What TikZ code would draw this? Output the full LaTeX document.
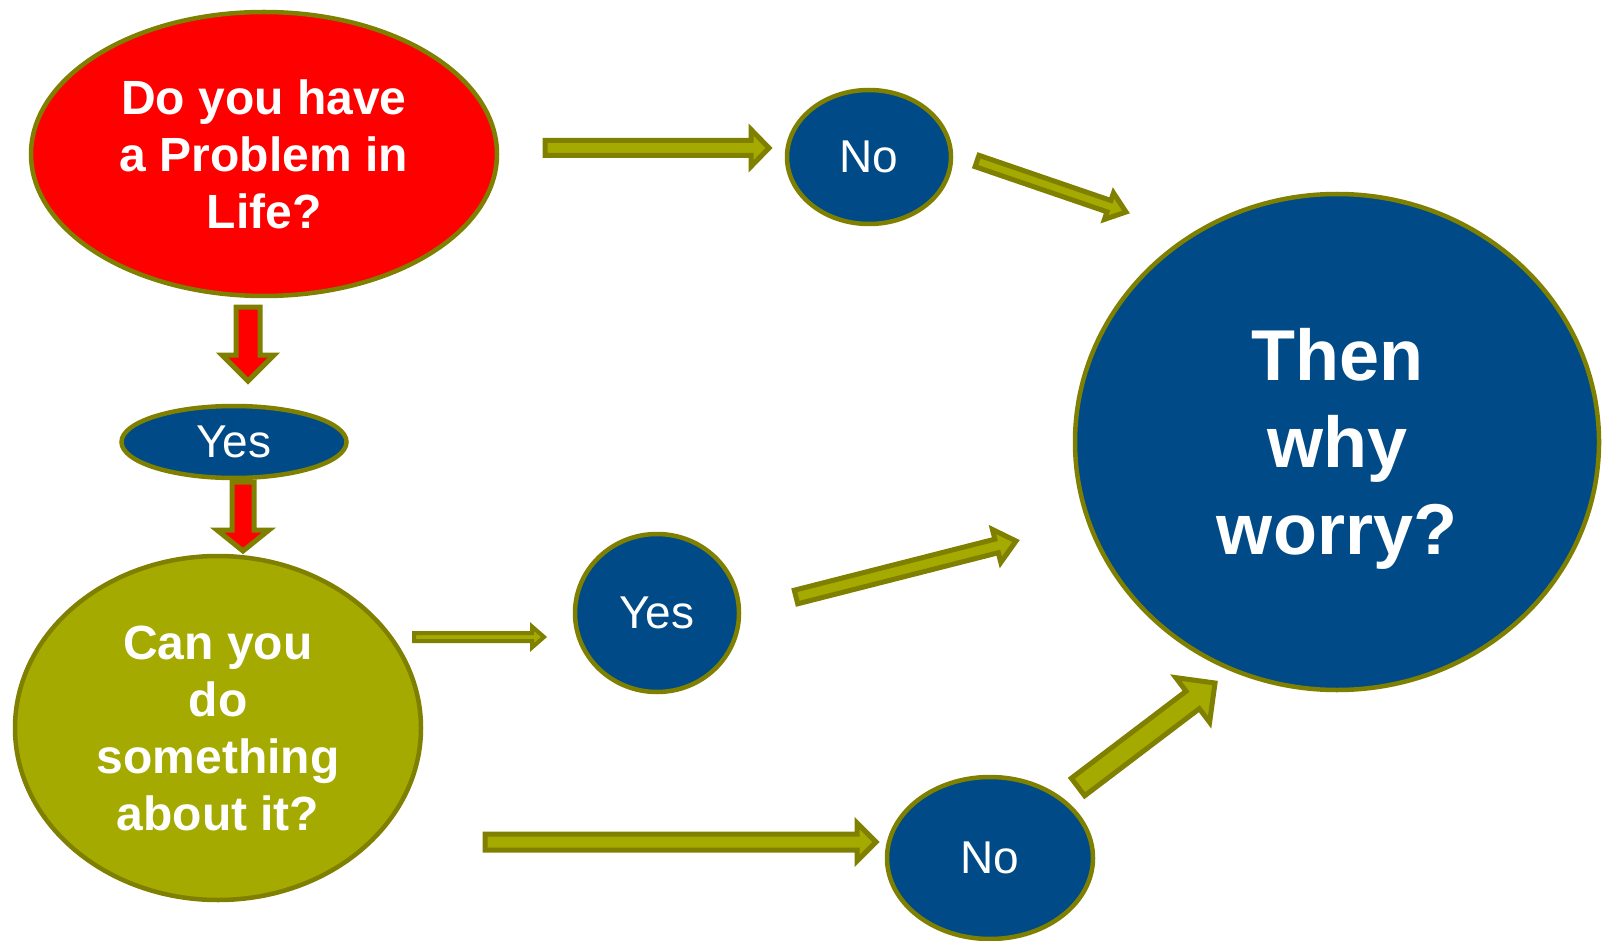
\documentclass[tikz,border=0pt]{standalone}
\usepackage{fontspec}
\setmainfont{Liberation Sans}
\usetikzlibrary{shapes.geometric,calc}
\definecolor{nblue}{HTML}{004B87}
\definecolor{oliveline}{HTML}{7F7F00}
\definecolor{olivefill}{HTML}{A4AA00}
\definecolor{pred}{HTML}{FF0000}
\newcommand\blockarrow[6]{%
  \path[#6] let \p1=(#1), \p2=(#2), \n1={atan2(\y2-\y1,\x2-\x1)}, \n2={veclen(\x2-\x1,\y2-\y1)} in
    ($(\p1)+(\n1+90:#3pt)$) -- ($(\p1)+(\n1:{\n2-#5pt})+(\n1+90:#3pt)$)
    -- ($(\p1)+(\n1:{\n2-#5pt})+(\n1+90:#4pt)$) -- (\p2)
    -- ($(\p1)+(\n1:{\n2-#5pt})+(\n1-90:#4pt)$) -- ($(\p1)+(\n1:{\n2-#5pt})+(\n1-90:#3pt)$)
    -- ($(\p1)+(\n1-90:#3pt)$) -- cycle;}
\tikzset{
  bubble/.style={ellipse, draw=oliveline, line width=4.5pt, inner sep=0pt, text=white, align=center},
  bigtxt/.style={font=\fontsize{48}{57}\selectfont\bfseries},
  hugetxt/.style={font=\fontsize{72}{87}\selectfont\bfseries, text=white, align=center},
  smalltxt/.style={font=\fontsize{46}{55}\selectfont},
  garrow/.style={draw=oliveline, fill=olivefill, line width=5pt, line join=miter},
  rarrow/.style={draw=oliveline, fill=pred, line width=5pt, line join=miter},
}
\begin{document}
\begin{tikzpicture}[x=1pt,y=-1pt]
\useasboundingbox (0,0) rectangle (1603,941);
% nodes
\node[bubble, bigtxt, fill=pred, minimum width=466, minimum height=284] (prob) at (264,154) {Do you have\\a Problem in\\Life?};
\node[bubble, smalltxt, fill=nblue, minimum width=164, minimum height=134] (no1) at (869,157) {No};
\node[bubble, fill=nblue, minimum width=524, minimum height=496] (then) at (1337,442) {};
\node[hugetxt] (thentext) at ($(then.center)+(0,7)$) {Then\\why\\worry?};
\node[bubble, smalltxt, fill=nblue, minimum width=225, minimum height=72] (yes1) at (234,442) {Yes};
\node[bubble, bigtxt, fill=olivefill, minimum width=406, minimum height=344] (can) at (218,728) {Can you\\do\\something\\about it?};
\node[bubble, smalltxt, fill=nblue, minimum width=164, minimum height=158] (yes2) at (657,613) {Yes};
\node[bubble, smalltxt, fill=nblue, minimum width=206, minimum height=162] (no2) at (990,858) {No};
% arrow end points
\coordinate (a1s) at (545,148);  \coordinate (a1e) at (769,148);
\coordinate (a2s) at (977,161);  \coordinate (a2e) at (1126,212);
\coordinate (r1s) at (248,307);  \coordinate (r1e) at (248,381);
\coordinate (r2s) at (243,482);  \coordinate (r2e) at (243,551);
\coordinate (a5s) at (414,637);  \coordinate (a5e) at (544,637);
\coordinate (a6s) at (796,597);  \coordinate (a6e) at (1016,541);
\coordinate (a7s) at (1078,787); \coordinate (a7e) at (1215,683);
\coordinate (a8s) at (485,842);  \coordinate (a8e) at (876,842);
% arrows
\blockarrow{a1s}{a1e}{7.5}{18.5}{18}{garrow}
\blockarrow{a2s}{a2e}{6}{14}{18}{garrow}
\blockarrow{r1s}{r1e}{12}{26}{26}{rarrow}
\blockarrow{r2s}{r2e}{11}{26}{21}{rarrow}
\blockarrow{a5s}{a5e}{4}{10.5}{12}{garrow, line width=4pt}
\blockarrow{a6s}{a6e}{7}{17}{20}{garrow}
\blockarrow{a7s}{a7e}{11}{28}{28}{garrow}
\blockarrow{a8s}{a8e}{8}{19}{19}{garrow}
\end{tikzpicture}
\end{document}
